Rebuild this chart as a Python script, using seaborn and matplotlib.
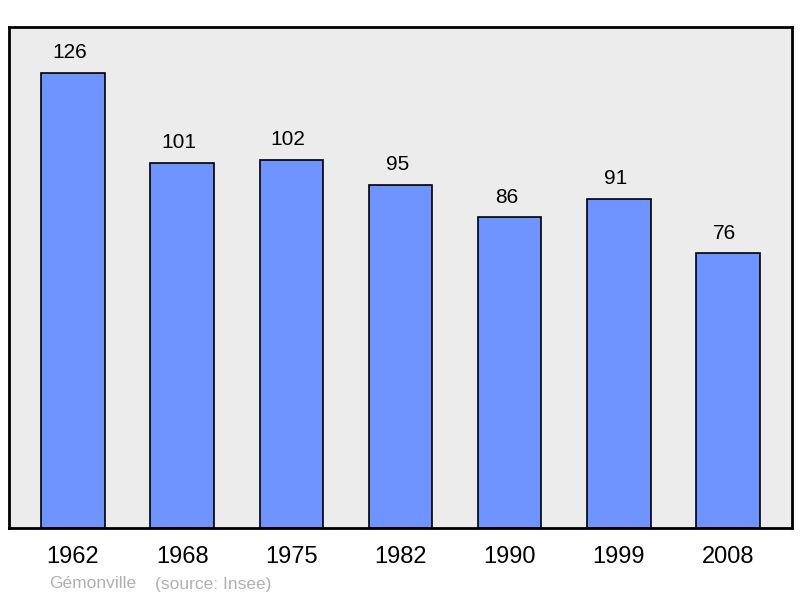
import matplotlib
matplotlib.use("Agg")
import matplotlib.pyplot as plt
import seaborn as sns
import pandas as pd

years = ["1962", "1968", "1975", "1982", "1990", "1999", "2008"]
population = [126, 101, 102, 95, 86, 91, 76]
town = "Gémonville"
source = "(source: Insee)"

df = pd.DataFrame({"year": years, "pop": population})

sns.set_style("white")
plt.rcParams["font.family"] = ["Liberation Sans", "DejaVu Sans"]

fig = plt.figure(figsize=(8, 5.98), dpi=100)
ax = fig.add_axes([9 / 800, 1 - 528 / 598, 783 / 800, 501 / 598])
ax.set_facecolor("#ececec")

sns.barplot(data=df, x="year", y="pop", color="#7094ff", saturation=1,
            width=0.58, edgecolor="black", linewidth=1.2, ax=ax)

for i, v in enumerate(population):
    ax.text(i - 0.03, v + 3.0, str(v), ha="center", va="bottom", fontsize=15, color="black")

ax.set_xlim(-0.585, 6.585)
ax.set_ylim(0, 138.7)
ax.set_yticks([])
ax.set_xlabel("")
ax.set_ylabel("")
ax.tick_params(axis="x", length=0, labelsize=17, pad=13, labelcolor="black")
for s in ax.spines.values():
    s.set_linewidth(2)
    s.set_color("black")

fig.text(49 / 800, 1 - 584 / 598, town, color="#b0b0b0", fontsize=12.5, va="center")
fig.text(155 / 800, 1 - 584 / 598, source, color="#b0b0b0", fontsize=12.5, va="center")

fig.savefig("out.png", dpi=100)
